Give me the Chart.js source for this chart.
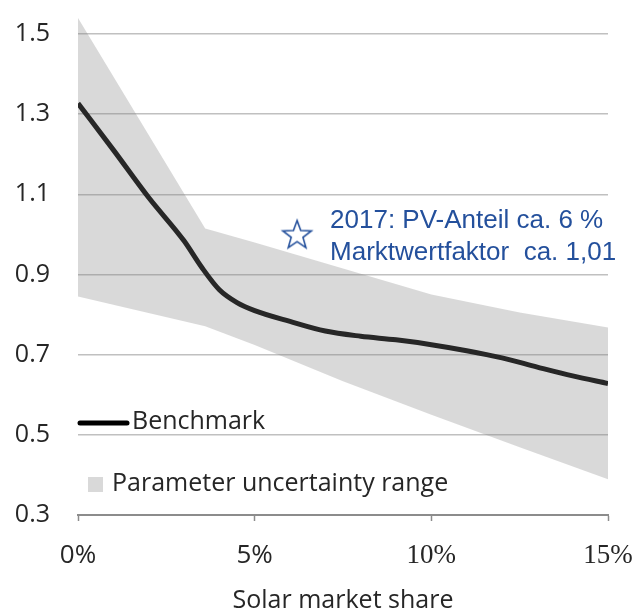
<!DOCTYPE html>
<html>
<head>
<meta charset="utf-8">
<script src="https://cdn.jsdelivr.net/npm/chart.js@4"></script>
<style>
  html, body { margin: 0; padding: 0; background: #fff; }
  #wrap { width: 635px; height: 611px; }
</style>
</head>
<body>
<div id="wrap"><canvas id="chart" width="635" height="611"></canvas></div>
<script>
// benchmark curve
const shareX = [0, 1, 2, 3, 3.5, 4, 4.5, 5, 6, 7, 8, 9, 10, 11, 12, 13, 14, 15];
const benchmark = [1.327, 1.211, 1.092, 0.984, 0.918, 0.862, 0.83, 0.81, 0.783, 0.759, 0.746, 0.737, 0.725, 0.71, 0.692, 0.669, 0.647, 0.628];

// uncertainty band
const bandX = [0, 3.6, 5, 7.5, 10, 12.5, 15];
const bandUpper = [1.54, 1.015, 0.98, 0.915, 0.85, 0.805, 0.768];
const bandLower = [0.845, 0.771, 0.724, 0.634, 0.55, 0.469, 0.389];

// 2017 marker
const markerX = [6.2];
const markerY = [1.0];
const markerText = ['2017: PV-Anteil ca. 6 %', 'Marktwertfaktor  ca. 1,01'];

const xTicks = [0, 5, 10, 15];
const yTicks = [0.3, 0.5, 0.7, 0.9, 1.1, 1.3, 1.5];

const textCol = '#262626';
const blue = '#24509c';
const sans = '"Open Sans", sans-serif';

function pts(xs, ys) { return xs.map((x, i) => ({x: x, y: ys[i]})); }

// hollow five-point star used as point style
const star = document.createElement('canvas');
star.width = 34; star.height = 34;
(function () {
  const c = star.getContext('2d');
  c.strokeStyle = blue; c.lineWidth = 1.6;
  c.beginPath();
  for (let i = 0; i < 10; i++) {
    const r = i % 2 ? 6.2 : 15;
    const a = -Math.PI / 2 + i * Math.PI / 5;
    const px = 17 + r * Math.cos(a), py = 18 + r * Math.sin(a);
    i ? c.lineTo(px, py) : c.moveTo(px, py);
  }
  c.closePath(); c.stroke();
})();

const overlay = {
  id: 'overlay',
  afterDraw(chart) {
    const ctx = chart.ctx;
    const p = chart.getDatasetMeta(3).data[0];
    ctx.save();
    // marker label
    ctx.fillStyle = blue;
    ctx.font = '26px "Liberation Sans", Arial, sans-serif';
    ctx.textBaseline = 'alphabetic';
    ctx.fillText(markerText[0], p.x + 33, p.y - 6);
    ctx.fillText(markerText[1], p.x + 33, p.y + 26);
    // legend
    ctx.strokeStyle = '#000'; ctx.lineWidth = 5; ctx.lineCap = 'round';
    ctx.beginPath(); ctx.moveTo(80, 423); ctx.lineTo(127, 423); ctx.stroke();
    ctx.fillStyle = '#d9d9d9';
    ctx.fillRect(88, 477, 15, 15);
    ctx.fillStyle = textCol;
    ctx.font = '25px ' + sans;
    ctx.textBaseline = 'middle';
    ctx.fillText('Benchmark', 132, 422);
    ctx.fillText('Parameter uncertainty range', 112, 484);
    ctx.restore();
  }
};

new Chart(document.getElementById('chart'), {
  type: 'line',
  data: {
    datasets: [
      { data: pts(bandX, bandLower), borderWidth: 0, pointRadius: 0, fill: false, tension: 0 },
      { data: pts(bandX, bandUpper), borderWidth: 0, pointRadius: 0, fill: '-1', tension: 0,
        backgroundColor: 'rgba(128,128,128,0.3)' },
      { data: pts(shareX, benchmark), borderColor: '#000', borderWidth: 5, pointRadius: 0,
        cubicInterpolationMode: 'monotone', fill: false },
      { type: 'scatter', data: pts(markerX, markerY), pointStyle: star, pointRadius: 15 }
    ]
  },
  options: {
    responsive: false,
    animation: false,
    events: [],
    layout: { padding: { left: 0, right: 27, top: 8, bottom: 0 } },
    plugins: { legend: { display: false }, tooltip: { enabled: false } },
    scales: {
      x: {
        type: 'linear', min: 0, max: 15,
        afterBuildTicks: a => { a.ticks = xTicks.map(v => ({value: v})); },
        afterFit: a => { a.height = 96; a.paddingLeft = 0; a.paddingRight = 0; },
        border: { color: '#8c8c8c', width: 2 },
        grid: { drawOnChartArea: false, drawTicks: true, tickLength: 6, tickColor: '#8c8c8c', tickWidth: 1.5 },
        ticks: {
          color: textCol, padding: 19, maxRotation: 0,
          font: c => c.index < 2 ? { family: sans, size: 26 } : { family: '"Liberation Serif", serif', size: 27 },
          callback: v => v + '%'
        },
        title: {
          display: true, text: 'Solar market share', color: textCol,
          font: { family: sans, size: 25, lineHeight: 1 }, padding: { top: 0, bottom: -2 }
        }
      },
      y: {
        min: 0.3, max: 1.545,
        afterBuildTicks: a => { a.ticks = yTicks.map(v => ({value: v})); },
        afterFit: a => { a.width = 78; a.paddingTop = 0; a.paddingBottom = 0; },
        border: { display: false },
        grid: {
          drawTicks: false, lineWidth: 1.5,
          color: c => Math.abs(c.tick.value - 0.3) < 1e-6 ? 'rgba(0,0,0,0)' : '#c0c0c0'
        },
        ticks: {
          color: textCol, padding: 28,
          font: { family: sans, size: 25 },
          callback: v => v.toFixed(1)
        }
      }
    }
  },
  plugins: [overlay]
});
</script>
</body>
</html>
